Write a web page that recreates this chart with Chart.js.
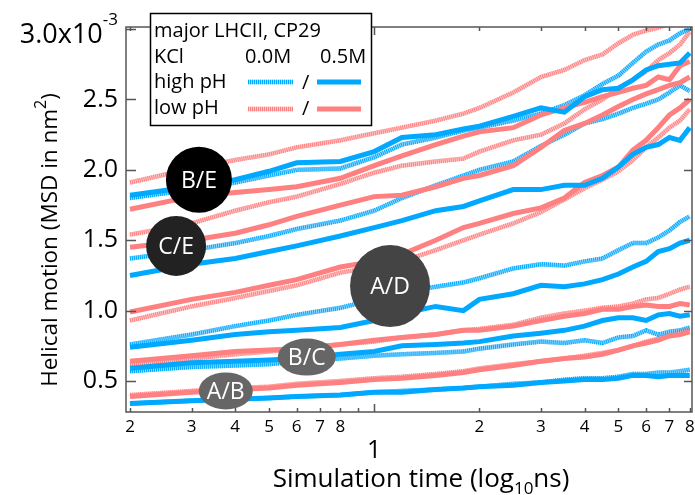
<!DOCTYPE html>
<html>
<head>
<meta charset="utf-8">
<script src="https://cdn.jsdelivr.net/npm/chart.js@4.4.1/dist/chart.umd.min.js"></script>
<style>
  html, body { margin: 0; padding: 0; background: #fff; }
  #wrap { width: 695px; height: 495px; }
</style>
</head>
<body>
<div id="wrap"><canvas id="msdChart" width="695" height="495"></canvas></div>
<script>
// Helical motion MSD vs simulation time, 5 helix pairs x 4 conditions
// values are in units of 1e-3 nm^2

const times = [0.2, 0.3, 0.4, 0.5, 0.6, 0.8, 1.0, 1.2, 1.5, 1.8, 2.0, 2.5, 3.0, 3.5, 4.0, 4.5, 5.0, 5.5, 6.0, 6.5, 7.0, 7.5, 8.0];

// B/E
const beHighSolid = [1.82, 1.88, 1.93, 1.99, 2.05, 2.06, 2.13, 2.23, 2.25, 2.29, 2.31, 2.38, 2.44, 2.41, 2.52, 2.57, 2.58, 2.64, 2.71, 2.74, 2.75, 2.76, 2.83];
const beHighDot   = [1.80, 1.86, 1.91, 1.96, 2.00, 2.01, 2.09, 2.18, 2.23, 2.28, 2.30, 2.35, 2.40, 2.46, 2.53, 2.61, 2.67, 2.76, 2.84, 2.89, 2.92, 2.97, 3.00];
const beLowSolid  = [1.72, 1.81, 1.84, 1.86, 1.88, 1.94, 2.03, 2.10, 2.18, 2.24, 2.27, 2.30, 2.39, 2.44, 2.48, 2.52, 2.55, 2.58, 2.60, 2.66, 2.64, 2.74, 2.77];
const beLowDot    = [1.91, 2.01, 2.07, 2.11, 2.16, 2.21, 2.26, 2.30, 2.35, 2.40, 2.44, 2.55, 2.66, 2.71, 2.78, 2.82, 2.90, 2.96, 2.99, 3.01, 3.04, 3.07, 3.09];

// C/E
const ceHighSolid = [1.25, 1.33, 1.37, 1.42, 1.46, 1.53, 1.59, 1.64, 1.71, 1.74, 1.78, 1.86, 1.86, 1.89, 1.89, 1.94, 2.02, 2.11, 2.16, 2.18, 2.23, 2.21, 2.30];
const ceHighDot   = [1.37, 1.43, 1.48, 1.53, 1.58, 1.64, 1.71, 1.80, 1.89, 1.96, 2.00, 2.06, 2.17, 2.25, 2.33, 2.36, 2.40, 2.44, 2.47, 2.50, 2.55, 2.60, 2.56];
const ceLowSolid  = [1.45, 1.50, 1.55, 1.61, 1.67, 1.75, 1.81, 1.82, 1.88, 1.94, 1.96, 2.03, 2.16, 2.28, 2.33, 2.39, 2.45, 2.50, 2.54, 2.57, 2.60, 2.62, 2.66];
const ceLowDot    = [1.54, 1.62, 1.71, 1.77, 1.81, 1.90, 1.98, 2.03, 2.06, 2.08, 2.13, 2.21, 2.25, 2.33, 2.43, 2.50, 2.58, 2.64, 2.70, 2.78, 2.83, 2.89, 2.98];

// A/D
const adHighSolid = [0.74, 0.79, 0.83, 0.85, 0.86, 0.88, 0.93, 0.98, 1.03, 1.00, 1.08, 1.12, 1.18, 1.17, 1.19, 1.22, 1.26, 1.31, 1.35, 1.42, 1.44, 1.48, 1.50];
const adHighDot   = [0.76, 0.83, 0.89, 0.93, 0.97, 1.02, 1.08, 1.13, 1.17, 1.20, 1.23, 1.30, 1.33, 1.32, 1.35, 1.37, 1.43, 1.48, 1.48, 1.52, 1.57, 1.63, 1.67];
const adLowSolid  = [0.99, 1.08, 1.13, 1.18, 1.22, 1.31, 1.35, 1.40, 1.50, 1.59, 1.62, 1.69, 1.73, 1.80, 1.91, 1.96, 2.02, 2.14, 2.21, 2.30, 2.39, 2.44, 2.50];
const adLowDot    = [0.93, 1.03, 1.09, 1.14, 1.18, 1.27, 1.31, 1.35, 1.43, 1.50, 1.54, 1.62, 1.70, 1.79, 1.87, 1.93, 1.99, 2.07, 2.16, 2.23, 2.30, 2.35, 2.43];

// B/C
const bcHighSolid = [0.59, 0.63, 0.64, 0.65, 0.66, 0.69, 0.71, 0.75, 0.76, 0.77, 0.78, 0.82, 0.84, 0.86, 0.89, 0.93, 0.95, 0.95, 0.93, 0.97, 0.98, 0.96, 0.97];
const bcHighDot   = [0.57, 0.60, 0.61, 0.62, 0.64, 0.66, 0.68, 0.69, 0.70, 0.71, 0.73, 0.76, 0.78, 0.77, 0.79, 0.77, 0.81, 0.82, 0.86, 0.83, 0.85, 0.86, 0.88];
const bcLowSolid  = [0.64, 0.68, 0.71, 0.72, 0.73, 0.76, 0.79, 0.81, 0.83, 0.86, 0.86, 0.89, 0.93, 0.96, 0.98, 1.01, 1.01, 1.03, 1.04, 1.03, 1.03, 1.05, 1.04];
const bcLowDot    = [0.62, 0.66, 0.69, 0.71, 0.73, 0.76, 0.78, 0.81, 0.83, 0.86, 0.87, 0.90, 0.95, 0.98, 1.00, 1.02, 1.03, 1.05, 1.08, 1.09, 1.12, 1.15, 1.17];

// A/B
const abHighSolid = [0.34, 0.36, 0.37, 0.38, 0.39, 0.40, 0.42, 0.42, 0.44, 0.45, 0.46, 0.47, 0.49, 0.50, 0.51, 0.51, 0.52, 0.54, 0.54, 0.53, 0.54, 0.54, 0.54];
const abHighDot   = [0.34, 0.36, 0.37, 0.38, 0.39, 0.40, 0.42, 0.43, 0.44, 0.45, 0.46, 0.48, 0.49, 0.51, 0.52, 0.52, 0.53, 0.55, 0.55, 0.56, 0.56, 0.57, 0.58];
const abLowSolid  = [0.39, 0.42, 0.44, 0.45, 0.47, 0.49, 0.51, 0.52, 0.54, 0.56, 0.58, 0.61, 0.64, 0.66, 0.67, 0.69, 0.72, 0.75, 0.77, 0.79, 0.82, 0.83, 0.85];
const abLowDot    = [0.40, 0.43, 0.45, 0.46, 0.48, 0.50, 0.52, 0.53, 0.55, 0.57, 0.59, 0.62, 0.64, 0.66, 0.68, 0.70, 0.72, 0.75, 0.78, 0.80, 0.83, 0.85, 0.87];

// axis ticks
const xTickValues = [0.2, 0.3, 0.4, 0.5, 0.6, 0.7, 0.8, 0.9, 1, 2, 3, 4, 5, 6, 7, 8];
const yTickValues = [0.5, 1.0, 1.5, 2.0, 2.5, 3.0];

// helix pair badges
const pairLabels = ['B/E', 'C/E', 'A/D', 'B/C', 'A/B'];
const pairLabelTimes = [0.315, 0.271, 1.11, 0.641, 0.376];
const pairLabelValues = [1.93, 1.46, 1.175, 0.67, 0.43];

const FONT = '"Open Sans", sans-serif';
const BLUE = '#00a8ff';
const RED = '#ff8080';
const BLUE_LIGHT = '#93d8ff';
const RED_LIGHT = '#ffc6c6';

function line(values, color, width, dash) {
    return {
        data: times.map((t, i) => ({ x: t, y: values[i] })),
        borderColor: color,
        borderWidth: width,
        borderDash: dash,
        pointRadius: 0,
        tension: 0,
        fill: false
    };
}

const solidSets = [
    [beHighSolid, BLUE], [beLowSolid, RED],
    [ceHighSolid, BLUE], [ceLowSolid, RED],
    [adHighSolid, BLUE], [adLowSolid, RED],
    [bcHighSolid, BLUE], [bcLowSolid, RED],
    [abHighSolid, BLUE], [abLowSolid, RED]
];
const dotSets = [
    [beHighDot, BLUE, BLUE_LIGHT], [beLowDot, RED, RED_LIGHT],
    [ceHighDot, BLUE, BLUE_LIGHT], [ceLowDot, RED, RED_LIGHT],
    [adHighDot, BLUE, BLUE_LIGHT], [adLowDot, RED, RED_LIGHT],
    [bcHighDot, BLUE, BLUE_LIGHT], [bcLowDot, RED, RED_LIGHT],
    [abHighDot, BLUE, BLUE_LIGHT], [abLowDot, RED, RED_LIGHT]
];

// dataset 0 is painted last: solid on top, then the striped lines, then their pale base
const datasets = [
    ...solidSets.map(s => line(s[0], s[1], 5, [])),
    ...dotSets.map(s => line(s[0], s[1], 4.5, [1, 1])),
    ...dotSets.map(s => line(s[0], s[2], 4.5, []))
];

// text made of normal / super / subscript pieces
function drawParts(ctx, parts, x, y, align) {
    let total = 0;
    parts.forEach(p => {
        ctx.font = p.size + 'px ' + FONT;
        p.w = ctx.measureText(p.text).width;
        total += p.w;
    });
    let cx = align === 'center' ? x - total / 2 : (align === 'right' ? x - total : x);
    ctx.textAlign = 'left';
    ctx.textBaseline = 'alphabetic';
    parts.forEach(p => {
        ctx.font = p.size + 'px ' + FONT;
        ctx.fillText(p.text, cx, y + (p.dy || 0));
        cx += p.w;
    });
}

const framePlugin = {
    id: 'frame',
    afterDraw(chart) {
        const ctx = chart.ctx;
        const xs = chart.scales.x, ys = chart.scales.y;
        const a = chart.chartArea;
        ctx.save();

        // box + inward ticks
        ctx.strokeStyle = '#555';
        ctx.lineWidth = 1.5;
        ctx.strokeRect(a.left, a.top, a.right - a.left, a.bottom - a.top);
        ctx.beginPath();
        yTickValues.forEach(v => {
            const py = Math.round(ys.getPixelForValue(v)) + 0.5;
            ctx.moveTo(a.left, py); ctx.lineTo(a.left + 10, py);
            ctx.moveTo(a.right, py); ctx.lineTo(a.right - 8, py);
        });
        xTickValues.forEach(v => {
            const px = Math.round(xs.getPixelForValue(v)) + 0.5;
            const len = v === 1 ? 8 : 4;
            ctx.moveTo(px, a.bottom); ctx.lineTo(px, a.bottom - len);
            ctx.moveTo(px, a.top); ctx.lineTo(px, a.top + len);
        });
        ctx.stroke();

        ctx.fillStyle = '#000';
        // decade label under the small tick numbers
        drawParts(ctx, [{ text: '1', size: 25 }], xs.getPixelForValue(1), 458, 'center');
        // top y label with exponent
        drawParts(ctx, [{ text: '3.0x10', size: 27 }, { text: '-3', size: 17, dy: -18 }], a.left - 8, 43, 'right');

        // axis titles
        drawParts(ctx, [
            { text: 'Simulation time (log', size: 26 },
            { text: '10', size: 17, dy: 7 },
            { text: 'ns)', size: 26 }
        ], (a.left + a.right) / 2 + 12, 487, 'center');
        ctx.save();
        ctx.translate(57, 240);
        ctx.rotate(-Math.PI / 2);
        drawParts(ctx, [
            { text: 'Helical motion (MSD in nm', size: 22.5 },
            { text: '2', size: 16, dy: -11 },
            { text: ')', size: 22.5 }
        ], 0, 0, 'center');
        ctx.restore();

        // helix pair badges
        const badge = [
            { fill: '#000', rx: 33, ry: 33 },
            { fill: '#222', rx: 30, ry: 30 },
            { fill: '#444', rx: 40, ry: 41 },
            { fill: '#666', rx: 29, ry: 18.5 },
            { fill: '#666', rx: 27, ry: 18.5 }
        ];
        pairLabels.forEach((lab, i) => {
            const cx = xs.getPixelForValue(pairLabelTimes[i]);
            const cy = ys.getPixelForValue(pairLabelValues[i]);
            ctx.fillStyle = badge[i].fill;
            ctx.beginPath();
            ctx.ellipse(cx, cy, badge[i].rx, badge[i].ry, 0, 0, Math.PI * 2);
            ctx.fill();
            ctx.fillStyle = '#fff';
            drawParts(ctx, [{ text: lab, size: 23 }], cx, cy + 8, 'center');
        });

        // legend box
        ctx.fillStyle = '#fff';
        ctx.fillRect(150, 13, 221, 112);
        ctx.strokeStyle = '#000';
        ctx.lineWidth = 1.5;
        ctx.strokeRect(150.5, 13.5, 221, 112);
        ctx.fillStyle = '#000';
        drawParts(ctx, [{ text: 'major LHCII, CP29', size: 20 }], 154, 37, 'left');
        drawParts(ctx, [{ text: 'KCl', size: 20 }], 154, 63, 'left');
        drawParts(ctx, [{ text: '0.0M', size: 20 }], 245, 63, 'left');
        drawParts(ctx, [{ text: '0.5M', size: 20 }], 320, 63, 'left');
        drawParts(ctx, [{ text: 'high pH', size: 20 }], 154, 88, 'left');
        drawParts(ctx, [{ text: 'low pH', size: 20 }], 154, 114, 'left');
        drawParts(ctx, [{ text: '/', size: 20 }], 302, 89, 'left');
        drawParts(ctx, [{ text: '/', size: 20 }], 302, 115, 'left');
        const legendRows = [
            { y: 82, solid: BLUE, light: BLUE_LIGHT },
            { y: 109, solid: RED, light: RED_LIGHT }
        ];
        legendRows.forEach(r => {
            ctx.lineWidth = 4.5;
            ctx.strokeStyle = r.light;
            ctx.beginPath(); ctx.moveTo(248, r.y); ctx.lineTo(293, r.y); ctx.stroke();
            ctx.strokeStyle = r.solid;
            ctx.setLineDash([1, 1]);
            ctx.beginPath(); ctx.moveTo(248, r.y); ctx.lineTo(293, r.y); ctx.stroke();
            ctx.setLineDash([]);
            ctx.lineWidth = 5;
            ctx.beginPath(); ctx.moveTo(317, r.y); ctx.lineTo(361, r.y); ctx.stroke();
        });

        ctx.restore();
    }
};

function xTickLabel(value) {
    if (Math.abs(value - 0.9) < 1e-6 || Math.abs(value - 1) < 1e-6) return '';
    if (value < 1) return String(Math.round(value * 10));
    return String(Math.round(value));
}

const ctx = document.getElementById('msdChart').getContext('2d');
new Chart(ctx, {
    type: 'line',
    data: { datasets: datasets },
    options: {
        responsive: false,
        animation: false,
        devicePixelRatio: 1,
        layout: { padding: { top: 27, right: 3, left: 0, bottom: 0 } },
        plugins: {
            legend: { display: false },
            tooltip: { enabled: false }
        },
        scales: {
            x: {
                type: 'logarithmic',
                min: 0.1948,
                max: 8.12,
                afterBuildTicks: s => { s.ticks = xTickValues.map(v => ({ value: v })); },
                afterFit: s => { s.height = 83; s.paddingLeft = 0; s.paddingRight = 0; },
                grid: { display: false, drawTicks: false, tickLength: 0 },
                border: { display: false },
                ticks: {
                    autoSkip: false,
                    maxRotation: 0,
                    padding: 5,
                    color: '#000',
                    font: { family: FONT, size: 17 },
                    callback: v => xTickLabel(v)
                }
            },
            y: {
                type: 'linear',
                min: 0.28,
                max: 3.015,
                afterBuildTicks: s => { s.ticks = yTickValues.map(v => ({ value: v })); },
                afterFit: s => { s.width = 126; },
                grid: { display: false, drawTicks: false, tickLength: 0 },
                border: { display: false },
                ticks: {
                    padding: 8,
                    color: '#000',
                    font: { family: FONT, size: 25 },
                    callback: v => (Math.abs(v - 3) < 1e-6 ? '' : v.toFixed(1))
                }
            }
        }
    },
    plugins: [framePlugin]
});
</script>
</body>
</html>
